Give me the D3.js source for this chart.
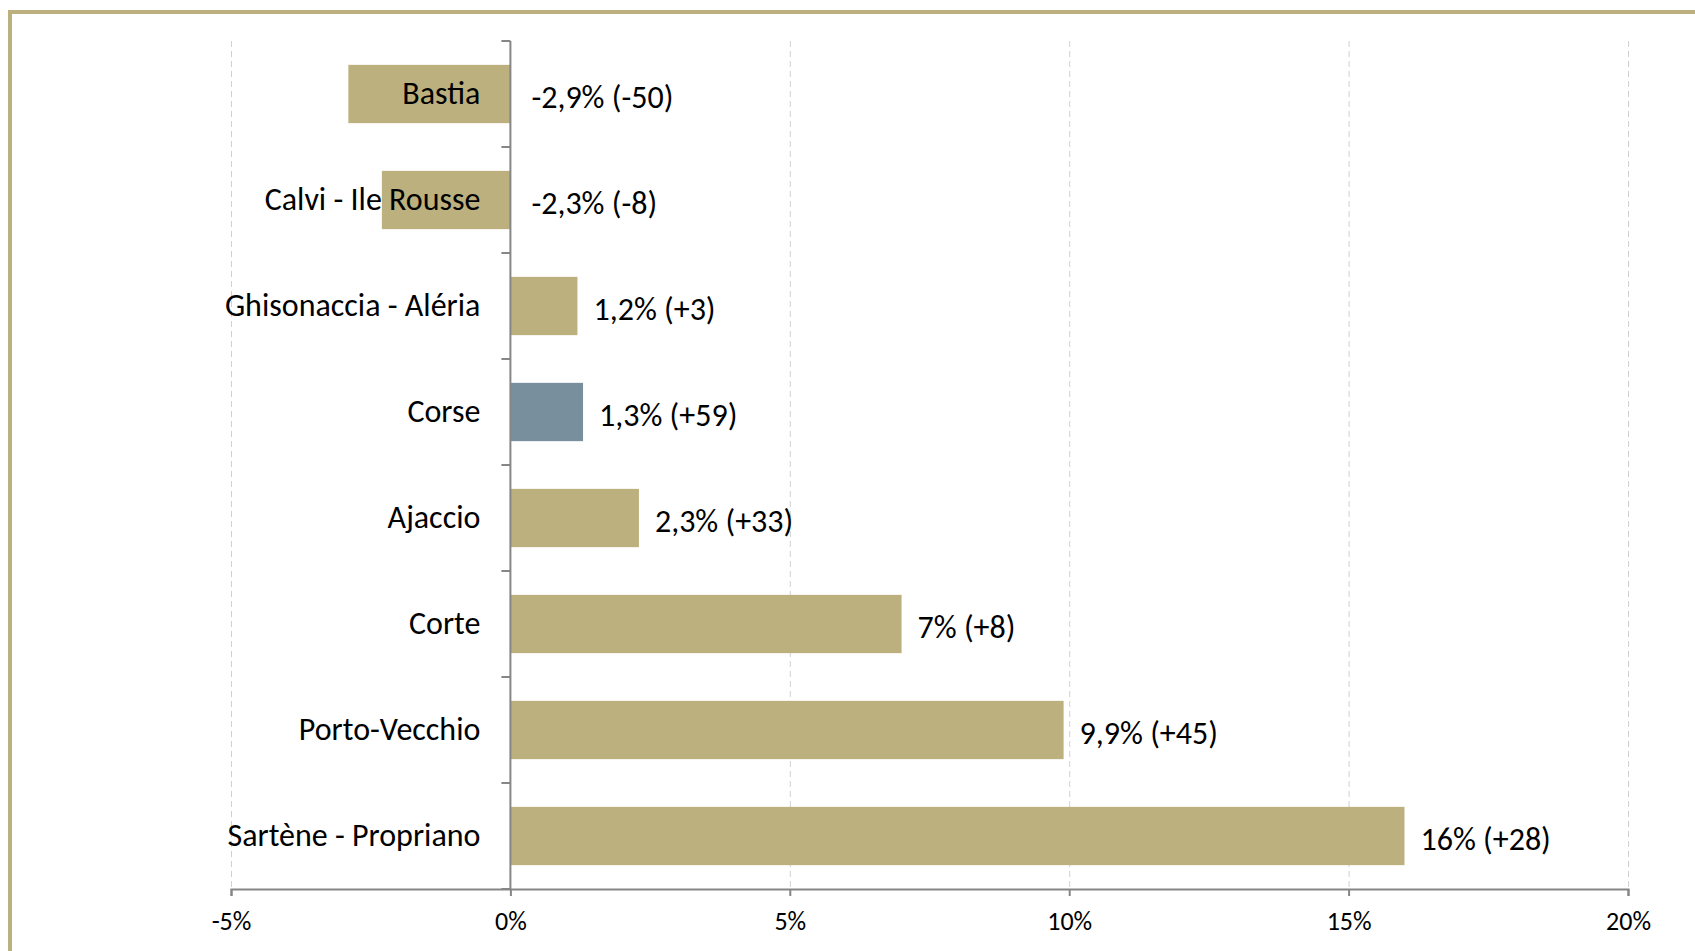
<html>
  <body style="margin:0;background:#fff;">
    <style>
      .grid line {
        stroke: #d0d0d0;
        stroke-dasharray: 6,4;
      }
      .grid path { stroke-width: 0; }
      .axis path, .axis line { stroke: #868686; stroke-width: 2; }
      .xaxis text { font-family: Calibri, Carlito, "Open Sans", sans-serif; font-size: 26px; fill: #000; }
      .cat { font-family: Calibri, Carlito, "Open Sans", sans-serif; font-size: 32px; fill: #000; }
      .val { font-family: Calibri, Carlito, "Open Sans", sans-serif; font-size: 32px; fill: #000; }
    </style>
    <div id="chart"></div>
    <script src="https://d3js.org/d3.v7.min.js"></script>
    <script type="text/javascript">
      var categories = ["Bastia", "Calvi - Ile Rousse", "Ghisonaccia - Aléria", "Corse",
                        "Ajaccio", "Corte", "Porto-Vecchio", "Sartène - Propriano"];
      var values = [-2.9, -2.3, 1.2, 1.3, 2.3, 7, 9.9, 16];
      var valueLabels = ["-2,9% (-50)", "-2,3% (-8)", "1,2% (+3)", "1,3% (+59)",
                         "2,3% (+33)", "7% (+8)", "9,9% (+45)", "16% (+28)"];
      var xTicks = [-5, 0, 5, 10, 15, 20];
      var highlight = "Corse";

      var W = 1695, H = 951;
      var margin = {top: 41, right: 67, bottom: 62, left: 231};
      var width = W - margin.left - margin.right,
          height = H - margin.top - margin.bottom;

      var svg = d3.select("#chart").append("svg")
        .attr("width", W).attr("height", H);

      // gold frame
      svg.append("rect")
        .attr("x", 10).attr("y", 12)
        .attr("width", W + 20).attr("height", H + 20)
        .attr("fill", "none")
        .attr("stroke", "#bcb07e")
        .attr("stroke-width", 4);

      var g = svg.append("g")
        .attr("transform", "translate(" + margin.left + "," + margin.top + ")");

      var x = d3.scaleLinear().domain([-5, 20]).range([0, width]);
      var y = d3.scaleBand().domain(categories).range([0, height]).paddingInner(0.45).paddingOuter(0.225);

      // vertical gridlines
      g.append("g")
        .attr("class", "grid")
        .call(d3.axisTop(x)
          .tickValues(xTicks.filter(function(d) { return d !== 0; }))
          .tickSize(-height)
          .tickFormat(""));

      // bars
      g.selectAll(".bar")
        .data(categories)
        .enter().append("rect")
        .attr("class", "bar")
        .attr("x", function(d, i) { return x(Math.min(0, values[i])); })
        .attr("y", function(d) { return y(d); })
        .attr("width", function(d, i) { return Math.abs(x(values[i]) - x(0)); })
        .attr("height", y.bandwidth())
        .attr("fill", function(d) { return d === highlight ? "#78909e" : "#bcb07e"; });

      // x axis
      g.append("g")
        .attr("class", "axis xaxis")
        .attr("transform", "translate(0," + height + ")")
        .call(d3.axisBottom(x)
          .tickValues(xTicks)
          .tickSize(7)
          .tickPadding(16)
          .tickFormat(function(d) { return d + "%"; }));

      // category axis at zero, ticks on band boundaries
      var bounds = d3.range(categories.length + 1).map(function(i) { return i * height / categories.length; });
      var yAxis = g.append("g").attr("class", "axis");
      yAxis.append("line")
        .attr("x1", x(0)).attr("x2", x(0))
        .attr("y1", 0).attr("y2", height);
      yAxis.selectAll(".ytick")
        .data(bounds)
        .enter().append("line")
        .attr("x1", x(0) - 9).attr("x2", x(0))
        .attr("y1", function(d) { return d; })
        .attr("y2", function(d) { return d; });

      // category labels
      g.selectAll(".cat")
        .data(categories)
        .enter().append("text")
        .attr("class", "cat")
        .attr("x", x(0) - 30)
        .attr("y", function(d) { return y(d) + y.bandwidth() / 2 - 1; })
        .attr("dy", "0.35em")
        .attr("text-anchor", "end")
        .text(function(d) { return d; });

      // value labels
      g.selectAll(".val")
        .data(categories)
        .enter().append("text")
        .attr("class", "val")
        .attr("x", function(d, i) { return x(Math.max(0, values[i])) + (values[i] < 0 ? 21 : 16); })
        .attr("y", function(d) { return y(d) + y.bandwidth() / 2 + 3; })
        .attr("dy", "0.35em")
        .text(function(d, i) { return valueLabels[i]; });
    </script>
  </body>
</html>
